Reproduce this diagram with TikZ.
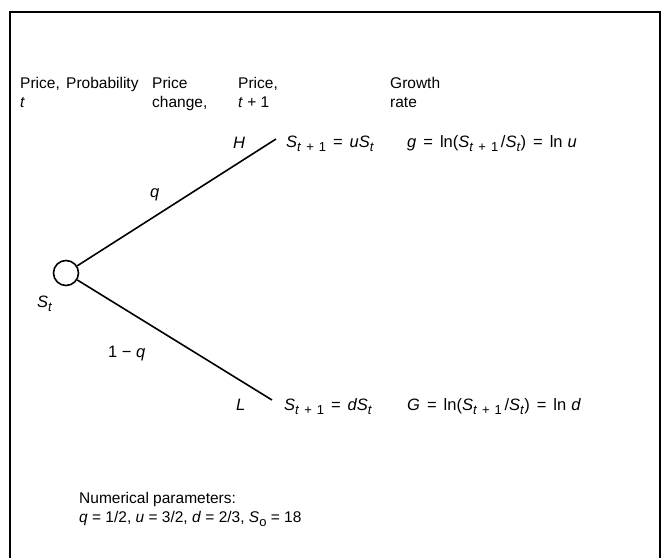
\documentclass[tikz,border=0pt]{standalone}
\usepackage{fontspec}
\setmainfont{Liberation Sans}
\usetikzlibrary{positioning}

\newcommand{\iv}[1]{\textit{#1}}
\newcommand{\lowsub}[1]{\raisebox{-0.28em}{\fontsize{13}{13}\selectfont #1}}
\newcommand{\gap}{\hspace{5pt}}
\newcommand{\eqs}{\hspace{7pt}=\hspace{7pt}}
\newcommand{\Snext}{\iv{S}\lowsub{\iv{t}\gap+\gap1}}
\newcommand{\Snow}{\iv{S}\lowsub{\iv{t}}}

\begin{document}
\begin{tikzpicture}[x=1pt, y=-1pt,
  lab/.style={font=\fontsize{15.5}{19}\selectfont, inner sep=0pt, anchor=base west},
  head/.style={lab, align=left},
  eqn/.style={lab, font=\fontsize{16.5}{19}\selectfont},
  branch/.style={line width=1.6pt},
  frame/.style={line width=2pt}]
\useasboundingbox (0,0) rectangle (665,558);
\draw[frame] (10,558) -- (10,12) -- (660,12) -- (660,558);

% column heads
\node[head] (hprice) at (20,107)  {Price,\\\iv{t}};
\node[head] (hprob)  at (66,88)   {Probability};
\node[head] (hchg)   at (152,107) {Price\\change,};
\node[head] (hnext)  at (238,107) {Price,\\\iv{t} + 1};
\node[head] (hgrow)  at (390,107) {Growth\\rate};

% tree
\node[circle, draw, line width=1.6pt, minimum size=25pt, inner sep=0pt] (st) at (66,273) {};
\coordinate (up) at (276,139);
\coordinate (dn) at (272,400);
\draw[branch] (st) -- (up);
\draw[branch] (st) -- (dn);

\node[eqn] (stlab) at (37,307)  {\Snow};
\node[eqn] (qlab)  at (150,197) {\iv{q}};
\node[eqn] (qqlab) at (108,357) {1 − \iv{q}};
\node[eqn] (hlab)  at (233,148) {\iv{H}};
\node[eqn] (llab)  at (236,410) {\iv{L}};

% outcomes
\node[eqn] (upval) at (286,147) {\Snext\eqs\iv{uS}\lowsub{\iv{t}}};
\node[eqn] (upg)   at (407,147) {\iv{g}\eqs ln(\Snext\,/\Snow)\eqs ln\gap\iv{u}};
\node[eqn] (dnval) at (284,410) {\Snext\eqs\iv{dS}\lowsub{\iv{t}}};
\node[eqn] (dng)   at (407,410) {\iv{G}\eqs ln(\Snext\,/\Snow)\eqs ln\gap\iv{d}};

% parameters
\node[head] (param) at (79,522) {Numerical parameters:\\\iv{q} = 1/2, \iv{u} = 3/2, \iv{d} = 2/3, \iv{S}\lowsub{o} = 18};
\end{tikzpicture}
\end{document}
